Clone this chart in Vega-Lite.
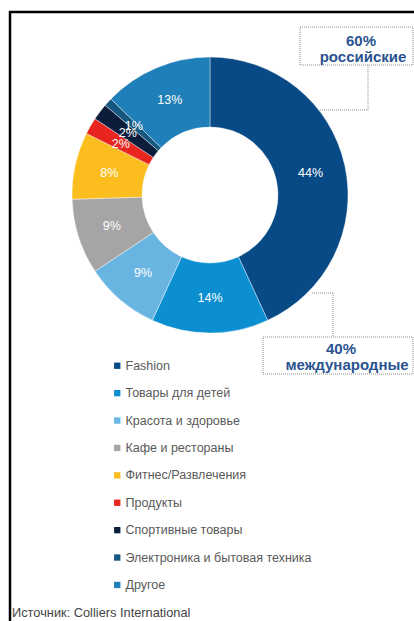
{
  "$schema": "https://vega.github.io/schema/vega-lite/v6.json",
  "description": "Структура арендаторов: российские и международные",
  "width": 414,
  "height": 621,
  "autosize": "none",
  "padding": 0,
  "background": "white",
  "config": {"view": {"stroke": null}, "font": "Liberation Sans"},
  "datasets": {
    "shares": [
      {"category": "Fashion", "share": 44, "label": "44%", "rank": 1},
      {"category": "Товары для детей", "share": 14, "label": "14%", "rank": 2},
      {"category": "Красота и здоровье", "share": 9, "label": "9%", "rank": 3},
      {"category": "Кафе и рестораны", "share": 9, "label": "9%", "rank": 4},
      {"category": "Фитнес/Развлечения", "share": 8, "label": "8%", "rank": 5},
      {"category": "Продукты", "share": 2, "label": "2%", "rank": 6},
      {"category": "Спортивные товары", "share": 2, "label": "2%", "rank": 7},
      {"category": "Электроника и бытовая техника", "share": 1, "label": "1%", "rank": 8},
      {"category": "Другое", "share": 13, "label": "13%", "rank": 9}
    ]
  },
  "data": {"values": [{}]},
  "layer": [
    {
      "data": {"name": "shares"},
      "mark": {"type": "arc", "radius": 138, "radius2": 68, "stroke": "white", "strokeWidth": 0.4},
      "encoding": {
        "x": {"datum": 210, "type": "quantitative", "scale": {"domain": [0, 414], "nice": false, "zero": false}, "axis": null},
        "y": {"datum": 195, "type": "quantitative", "scale": {"domain": [0, 621], "nice": false, "zero": false, "reverse": true}, "axis": null},
        "theta": {"field": "share", "type": "quantitative", "stack": true},
        "order": {"field": "rank", "type": "quantitative"},
        "color": {
          "field": "category",
          "type": "nominal",
          "sort": null,
          "scale": {
            "domain": ["Fashion", "Товары для детей", "Красота и здоровье", "Кафе и рестораны", "Фитнес/Развлечения", "Продукты", "Спортивные товары", "Электроника и бытовая техника", "Другое"],
            "range": ["#074a86", "#0b8fd0", "#69b5e2", "#a5a5a5", "#fbbe1e", "#e8261f", "#0c1d3c", "#15577e", "#1f7fb8"]
          },
          "legend": {
            "orient": "none",
            "legendX": 111,
            "legendY": 359.5,
            "title": null,
            "padding": 0,
            "symbolType": "square",
            "symbolSize": 40,
            "symbolStrokeWidth": 0,
            "labelFont": "Liberation Sans",
            "labelFontSize": 12.5,
            "labelColor": "#595959",
            "labelOffset": 2,
            "labelLimit": 300,
            "rowPadding": 14.4
          }
        }
      }
    },
    {
      "data": {"name": "shares"},
      "mark": {"type": "text", "radius": 103, "fontSize": 12.5, "fill": "white"},
      "encoding": {
        "x": {"datum": 210, "type": "quantitative", "scale": {"domain": [0, 414], "nice": false, "zero": false}, "axis": null},
        "y": {"datum": 195, "type": "quantitative", "scale": {"domain": [0, 621], "nice": false, "zero": false, "reverse": true}, "axis": null},
        "theta": {"field": "share", "type": "quantitative", "stack": true},
        "order": {"field": "rank", "type": "quantitative"},
        "text": {"field": "label"}
      }
    },
    {
      "mark": {"type": "rect", "fill": "white", "stroke": "#8c8c8c", "strokeWidth": 1, "strokeDash": [1, 1]},
      "encoding": {
        "x": {"datum": 300, "type": "quantitative"},
        "x2": {"datum": 413},
        "y": {"datum": 27, "type": "quantitative"},
        "y2": {"datum": 65}
      }
    },
    {
      "mark": {"type": "rect", "fill": "white", "stroke": "#8c8c8c", "strokeWidth": 1, "strokeDash": [1, 1]},
      "encoding": {
        "x": {"datum": 263, "type": "quantitative"},
        "x2": {"datum": 413},
        "y": {"datum": 337, "type": "quantitative"},
        "y2": {"datum": 374}
      }
    },
    {
      "mark": {"type": "rule", "stroke": "#8c8c8c", "strokeWidth": 1, "strokeDash": [1, 1]},
      "encoding": {
        "x": {"datum": 368, "type": "quantitative"},
        "y": {"datum": 65, "type": "quantitative"},
        "y2": {"datum": 110}
      }
    },
    {
      "mark": {"type": "rule", "stroke": "#8c8c8c", "strokeWidth": 1, "strokeDash": [1, 1]},
      "encoding": {
        "x": {"datum": 320, "type": "quantitative"},
        "x2": {"datum": 368},
        "y": {"datum": 110, "type": "quantitative"}
      }
    },
    {
      "mark": {"type": "rule", "stroke": "#8c8c8c", "strokeWidth": 1, "strokeDash": [1, 1]},
      "encoding": {
        "x": {"datum": 312, "type": "quantitative"},
        "x2": {"datum": 333},
        "y": {"datum": 293, "type": "quantitative"}
      }
    },
    {
      "mark": {"type": "rule", "stroke": "#8c8c8c", "strokeWidth": 1, "strokeDash": [1, 1]},
      "encoding": {
        "x": {"datum": 333, "type": "quantitative"},
        "y": {"datum": 293, "type": "quantitative"},
        "y2": {"datum": 337}
      }
    },
    {
      "mark": {"type": "text", "text": "60%", "fontSize": 15, "fontWeight": "bold", "fill": "#2a5390", "align": "center", "baseline": "alphabetic"},
      "encoding": {
        "x": {"datum": 361, "type": "quantitative"},
        "y": {"datum": 46, "type": "quantitative"}
      }
    },
    {
      "mark": {"type": "text", "text": "российские", "fontSize": 15, "fontWeight": "bold", "fill": "#2a5390", "align": "center", "baseline": "alphabetic"},
      "encoding": {
        "x": {"datum": 363, "type": "quantitative"},
        "y": {"datum": 62, "type": "quantitative"}
      }
    },
    {
      "mark": {"type": "text", "text": "40%", "fontSize": 15, "fontWeight": "bold", "fill": "#2a5390", "align": "center", "baseline": "alphabetic"},
      "encoding": {
        "x": {"datum": 341, "type": "quantitative"},
        "y": {"datum": 354, "type": "quantitative"}
      }
    },
    {
      "mark": {"type": "text", "text": "международные", "fontSize": 15, "fontWeight": "bold", "fill": "#2a5390", "align": "center", "baseline": "alphabetic"},
      "encoding": {
        "x": {"datum": 347, "type": "quantitative"},
        "y": {"datum": 370, "type": "quantitative"}
      }
    },
    {
      "mark": {"type": "text", "text": "Источник: Colliers International", "fontSize": 12.8, "fill": "#444444", "align": "left", "baseline": "alphabetic"},
      "encoding": {
        "x": {"datum": 12, "type": "quantitative"},
        "y": {"datum": 617, "type": "quantitative"}
      }
    },
    {
      "mark": {"type": "rule", "stroke": "black", "strokeWidth": 2.5},
      "encoding": {
        "x": {"datum": 10, "type": "quantitative"},
        "y": {"datum": 11, "type": "quantitative"},
        "y2": {"datum": 621}
      }
    },
    {
      "mark": {"type": "rule", "stroke": "black", "strokeWidth": 2.5},
      "encoding": {
        "x": {"datum": 9, "type": "quantitative"},
        "x2": {"datum": 414},
        "y": {"datum": 12, "type": "quantitative"}
      }
    }
  ]
}
